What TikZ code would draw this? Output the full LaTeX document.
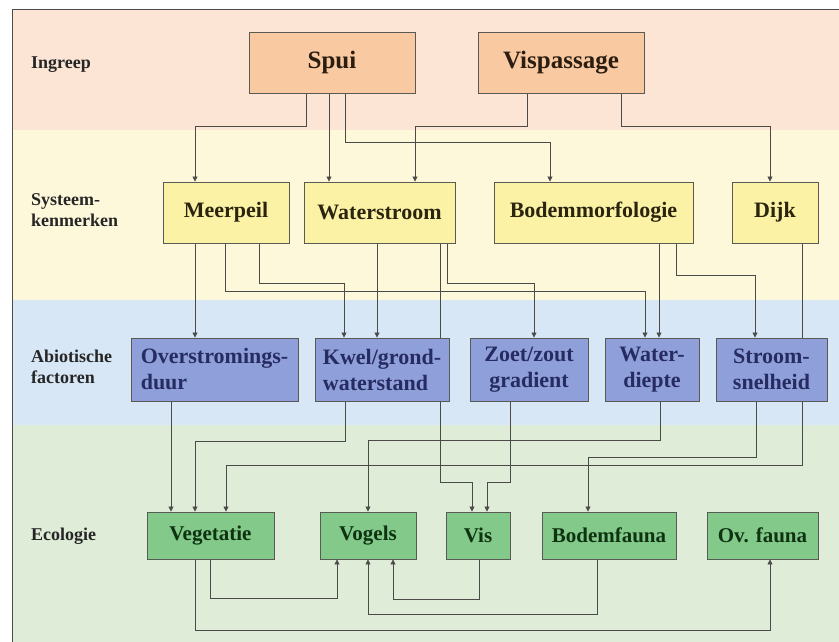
\documentclass[tikz,border=0pt]{standalone}
\usepackage{fontspec}
\setmainfont{Liberation Serif}
\usetikzlibrary{arrows.meta}
\pgfdeclarelayer{bands}
\pgfdeclarelayer{links}
\pgfsetlayers{bands,links,main}
\definecolor{bandI}{HTML}{FCE5D5}
\definecolor{bandS}{HTML}{FEF8DB}
\definecolor{bandA}{HTML}{D7E7F6}
\definecolor{bandE}{HTML}{DFEDD8}
\definecolor{fillI}{HTML}{F9C9A2}
\definecolor{fillS}{HTML}{FBF2A6}
\definecolor{fillA}{HTML}{8F9FD9}
\definecolor{fillE}{HTML}{82C98A}
\definecolor{edgec}{HTML}{5A5A55}
\definecolor{linec}{HTML}{4A4A48}
\definecolor{txtI}{HTML}{2B1D10}
\definecolor{txtS}{HTML}{2B2510}
\definecolor{txtA}{HTML}{262C62}
\definecolor{txtE}{HTML}{0F3311}

\begin{document}
\begin{tikzpicture}[x=1pt, y=-1pt,
  box/.style={draw=edgec, line width=0.9pt, inner sep=0pt, minimum height=61pt},
  ingn/.style={box, fill=fillI, text=txtI, font=\fontsize{25}{28}\selectfont\bfseries},
  sysn/.style={box, fill=fillS, text=txtS, font=\fontsize{22}{26}\selectfont\bfseries},
  abn/.style={box, fill=fillA, text=txtA, minimum height=63pt, align=center,
    font=\fontsize{22}{26}\selectfont\bfseries},
  ecn/.style={box, fill=fillE, text=txtE, minimum height=47pt, font=\fontsize{21}{24}\selectfont\bfseries},
  lbl/.style={anchor=west, align=left, text=black!85, inner sep=0pt, font=\fontsize{18}{21}\selectfont\bfseries},
  ar/.style={-{Triangle[length=5pt,width=5pt]}, draw=linec, line width=0.8pt}]

\useasboundingbox (0,0) rectangle (839,642);

% ---------------- bands ----------------
\begin{pgfonlayer}{bands}
\fill[bandI] (12,10) rectangle (839,130);
\fill[bandS] (12,130) rectangle (839,300);
\fill[bandA] (12,300) rectangle (839,425);
\fill[bandE] (12,425) rectangle (839,642);
\draw[black!70, line width=1pt] (12,642) -- (12,10) -- (839,10);
\end{pgfonlayer}

\node[lbl] (lI) at (31,65) {Ingreep};
\node[lbl] (lS) at (31,210) {Systeem-\\kenmerken};
\node[lbl] (lA) at (31,367) {Abiotische\\factoren};
\node[lbl] (lE) at (31,536) {Ecologie};

% ---------------- ingreep ----------------
\node[ingn, minimum width=166pt] (spui) at (332,62.5) {Spui};
\node[ingn, minimum width=166pt] (visp) at (561,62.5) {Vispassage};

% ---------------- systeemkenmerken ----------------
\node[sysn, minimum width=126pt] (meer) at (226,212.5) {Meerpeil};
\node[sysn, minimum width=151pt] (wstr) at (379.5,212.5) {Waterstroom};
\node[sysn, minimum width=199pt] (bodem) at (593.5,212.5) {Bodemmorfologie};
\node[sysn, minimum width=86pt] (dijk) at (775,212.5) {Dijk};

% ---------------- abiotische factoren ----------------
\node[abn, minimum width=167pt, align=left] (overs) at (214.5,369.5) {Overstromings-\\duur};
\node[abn, minimum width=134pt, align=left] (kwel) at (382,369.5) {Kwel/grond-\\waterstand};
\node[abn, minimum width=118pt] (zoet) at (529,369.5) {Zoet/zout\\gradient};
\node[abn, minimum width=94pt] (wdiep) at (652,369.5) {Water-\\diepte};
\node[abn, minimum width=111pt] (stroom) at (771.5,369.5) {Stroom-\\snelheid};

% ---------------- ecologie ----------------
\node[ecn, minimum width=127pt] (veg) at (210.5,535.5) {Vegetatie};
\node[ecn, minimum width=96pt] (vogels) at (368,535.5) {Vogels};
\node[ecn, minimum width=64pt] (vis) at (478,535.5) {Vis};
\node[ecn, minimum width=134pt] (bodf) at (609,535.5) {Bodemfauna};
\node[ecn, minimum width=111pt] (ovf) at (762.5,535.5) {Ov. fauna};

\begin{pgfonlayer}{links}
% ---------------- ingreep -> systeem ----------------
\draw[ar] ([xshift=-26pt]spui.south) -- ++(0,33) -| ([xshift=-31pt]meer.north);
\draw[ar] ([xshift=-3pt]spui.south) -- ([xshift=-50.5pt]wstr.north);
\draw[ar] ([xshift=13pt]spui.south) -- ++(0,49) -| ([xshift=-43.5pt]bodem.north);
\draw[ar] ([xshift=-34pt]visp.south) -- ++(0,33) -| ([xshift=35.5pt]wstr.north);
\draw[ar] ([xshift=60pt]visp.south) -- ++(0,33) -| ([xshift=-5pt]dijk.north);

% ---------------- systeem -> abiotisch ----------------
\draw[ar] ([xshift=-31pt]meer.south) -- ([xshift=-19.5pt]overs.north);
\draw[ar] ([xshift=-1pt]meer.south) -- ++(0,48) -| ([xshift=-7pt]wdiep.north);
\draw[ar] ([xshift=33pt]meer.south) -- ++(0,40) -| ([xshift=-38pt]kwel.north);
\draw[ar] ([xshift=-2.5pt]wstr.south) -- ([xshift=-5pt]kwel.north);
\draw[ar] ([xshift=60.5pt]wstr.south) -- ++(0,239) -| ([xshift=-6pt]vis.north);
\draw[ar] ([xshift=67.5pt]wstr.south) -- ++(0,40) -| ([xshift=5pt]zoet.north);
\draw[ar] ([xshift=65.5pt]bodem.south) -- ([xshift=7pt]wdiep.north);
\draw[ar] ([xshift=82.5pt]bodem.south) -- ++(0,32) -| ([xshift=-16.5pt]stroom.north);
\draw[ar] ([xshift=27pt]dijk.south) -- ++(0,222) -| ([xshift=15.5pt]veg.north);

% ---------------- abiotisch -> ecologie ----------------
\draw[ar] ([xshift=-43.5pt]overs.south) -- ([xshift=-39.5pt]veg.north);
\draw[ar] ([xshift=-37pt]kwel.south) -- ++(0,40) -| ([xshift=-15.5pt]veg.north);
\draw[ar] ([xshift=8pt]wdiep.south) -- ++(0,39) -| (vogels.north);
\draw[ar] ([xshift=-19pt]zoet.south) -- ++(0,81) -| ([xshift=9pt]vis.north);
\draw[ar] ([xshift=-15.5pt]stroom.south) -- ++(0,56) -| ([xshift=-21pt]bodf.north);

% ---------------- ecologie onderling ----------------
\draw[ar] (veg.south) -- ++(0,39) -| ([xshift=-31pt]vogels.south);
\draw[ar] ([xshift=1pt]vis.south) -- ++(0,40) -| ([xshift=25pt]vogels.south);
\draw[ar] ([xshift=-12pt]bodf.south) -- ++(0,55) -| (vogels.south);
\draw[ar] ([xshift=-15.5pt]veg.south) -- ++(0,71) -| ([xshift=7.5pt]ovf.south);
\end{pgfonlayer}
\end{tikzpicture}
\end{document}
